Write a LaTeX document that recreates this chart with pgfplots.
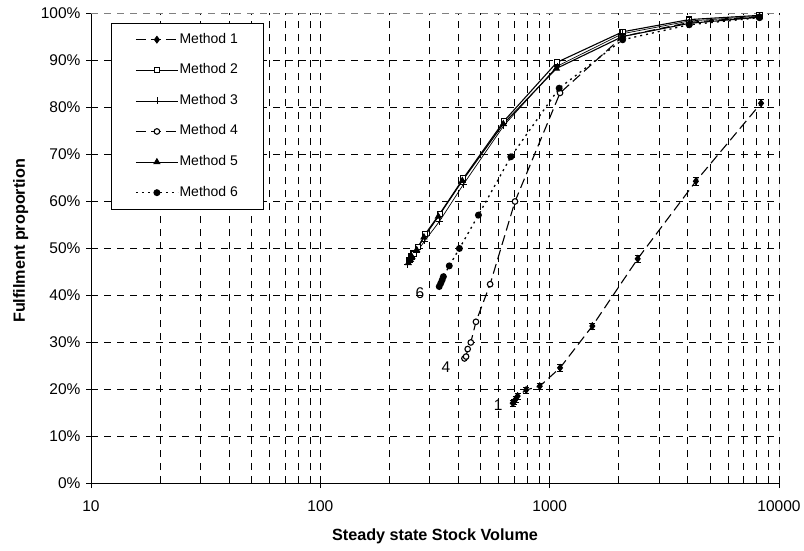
\documentclass[border=0pt]{standalone}
\usepackage{pgfplots}
\pgfplotsset{compat=1.18}
\usepackage{fontspec}
\setmainfont{Liberation Sans}
\begin{document}
\begin{tikzpicture}
\begin{axis}[
  name=ax,
  scale only axis, width=688pt, height=470pt,
  xmode=log, xmin=10, xmax=10000, ymin=0, ymax=100,
  axis x line*=bottom, axis y line*=left,
  axis line style={black, line width=0.8pt},
  xtick={10,100,1000,10000}, xticklabels={10,100,1000,10000},
  ytick={0,10,...,100},
  yticklabel={\pgfmathprintnumber{\tick}\%},
  /pgf/number format/assume math mode=true,
  ticklabel style={font=\fontsize{15.5}{18}\selectfont},
  xticklabel style={yshift=-9pt},
  yticklabel style={xshift=-2pt},
  grid=both,
  major grid style={black, line width=0.6pt, dash pattern=on 7pt off 6pt},
  minor grid style={black, line width=0.6pt, dash pattern=on 7pt off 6pt},
  tick align=outside, major tick length=5pt, minor tick length=0pt,
  tick style={black, line width=0.6pt},
  xlabel={\bfseries Steady state Stock Volume},
  ylabel={\bfseries Fulfilment proportion},
  xlabel style={font=\fontsize{16.2}{19}\selectfont, at={(axis description cs:0.5,-0.1136)}, anchor=center},
  ylabel style={font=\fontsize{16.2}{19}\selectfont, at={(axis description cs:-0.1022,0.515)}, anchor=center},
  legend style={at={(0.029,0.979)}, anchor=north west, draw=black, fill=white,
    line width=0.6pt, font=\fontsize{14}{16}\selectfont,
    nodes={inner sep=1pt, text height=10pt, text depth=3pt},
    row sep=15.6pt, inner xsep=24pt, inner ysep=9pt},
  legend cell align=left,
  legend image code/.code={\draw[mark repeat=2,mark phase=2] plot coordinates {(0pt,0pt) (21pt,0pt) (42pt,0pt)};},
]
% Method 1
\addplot+[black, line width=1.1pt, dash pattern=on 10pt off 5pt, mark=diamond*, mark size=3.2pt,
  mark options={solid, fill=black},
  error bars/.cd, y dir=both, y explicit,
  error bar style={solid, line width=0.6pt}, error mark options={rotate=90, mark size=3pt, solid}]
  coordinates {
  (690,17.0) +- (0,0.6)
  (700,17.3) +- (0,0.6)
  (710,17.8) +- (0,0.6)
  (725,18.5) +- (0,0.6)
  (790,19.8) +- (0,0.6)
  (905,20.6) +- (0,0.6)
  (1110,24.5) +- (0,0.7)
  (1535,33.4) +- (0,0.7)
  (2420,47.7) +- (0,0.7)
  (4340,64.2) +- (0,0.8)
  (8350,80.8) +- (0,0.8)
  };
\addlegendentry{Method 1}
% Method 2
\addplot+[black, line width=1.1pt, solid, mark=square*, mark size=2.6pt, mark options={solid, fill=white}]
  coordinates {
  (245,47.5) (250,48.2) (255,48.8) (267,50.2) (287,53.0) (332,57.3)
  (420,64.8) (632,77.0) (1075,89.5) (2080,96.0) (4060,98.6) (8220,99.5)
  };
\addlegendentry{Method 2}
% Method 3
\addplot+[black, line width=0.7pt, solid, mark=+, mark size=3.5pt, mark options={solid}]
  coordinates {
  (240,46.5) (245,47.2) (250,47.8) (262,49.0) (285,51.5) (330,55.6)
  (420,63.5) (630,76.0) (1080,88.7) (2080,95.6) (4060,98.3) (8220,99.3)
  };
\addlegendentry{Method 3}
% Method 4
\addplot+[black, line width=1.1pt, dash pattern=on 10pt off 5pt, mark=*, mark size=2.8pt, mark options={solid, fill=white}]
  coordinates {
  (425,26.5) (432,26.9) (439,28.5) (453,29.9) (477,34.3) (550,42.3)
  (706,59.9) (1110,83.0) (2080,95.0) (4060,98.0) (8220,99.2)
  };
\addlegendentry{Method 4}
% Method 5
\addplot+[black, line width=1.1pt, solid, mark=triangle*, mark size=3.2pt, mark options={solid, fill=black}]
  coordinates {
  (242,46.8) (247,47.5) (251,48.1) (263,49.6) (283,52.3) (327,56.7)
  (416,64.3) (628,76.4) (1070,88.2) (2080,95.0) (4060,97.8) (8220,99.1)
  };
\addlegendentry{Method 5}
% Method 6
\addplot+[black, line width=1.3pt, dash pattern=on 2pt off 4pt, mark=*, mark size=2.8pt, mark options={solid, fill=black}]
  coordinates {
  (330,41.8) (335,42.5) (340,43.2) (344,43.9) (365,46.2) (404,49.9)
  (489,57.0) (677,69.4) (1100,84.0) (2080,94.3) (4060,97.5) (8220,99.0)
  };
\addlegendentry{Method 6}
\draw[gray, line width=0.8pt, dash pattern=on 7pt off 6pt] (axis cs:10,100) -- (axis cs:10000,100) -- (axis cs:10000,0);
\node[font=\fontsize{15.5}{18}\selectfont] at (axis cs:597,16.6) {1};
\node[font=\fontsize{15.5}{18}\selectfont] at (axis cs:353,24.6) {4};
\node[font=\fontsize{15.5}{18}\selectfont] at (axis cs:272,40.4) {6};
\end{axis}
\pgfresetboundingbox
\path (ax.south west) ++(-91pt,-67pt) rectangle ++(804pt,550pt);
\end{tikzpicture}
\end{document}
